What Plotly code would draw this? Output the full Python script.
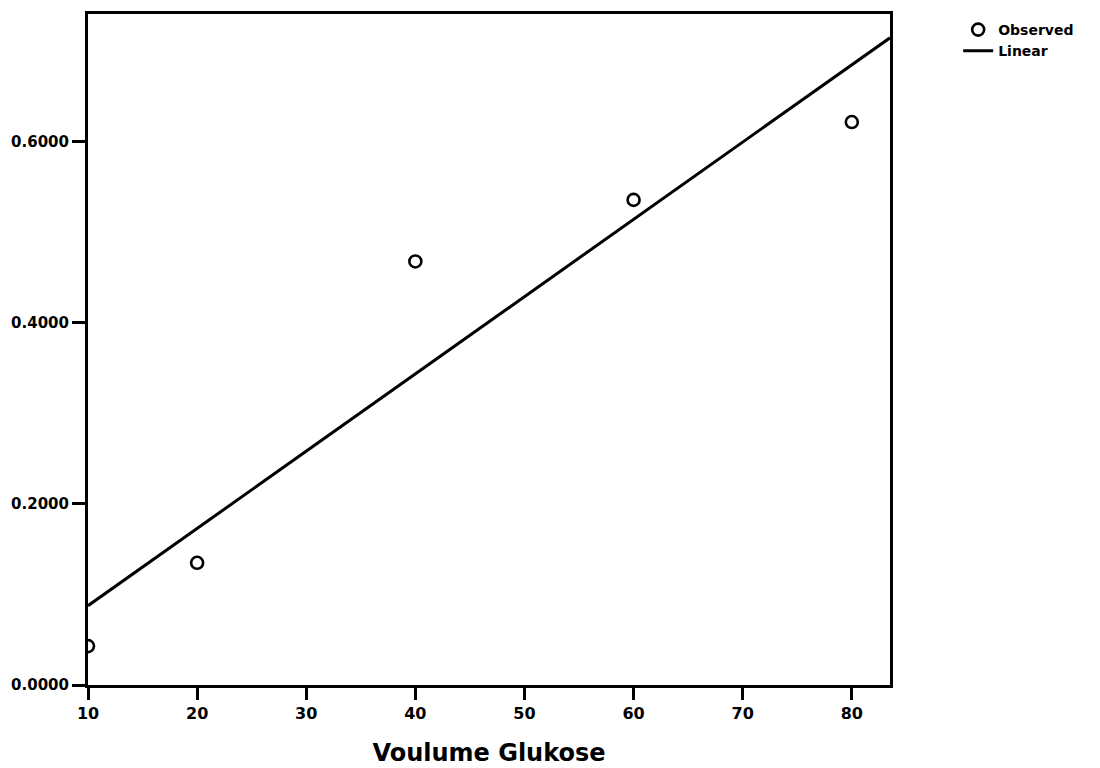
import numpy as np
import plotly.graph_objects as go

# Data
volume_glukose = [10, 20, 40, 60, 80]
observed = [0.043, 0.135, 0.468, 0.536, 0.622]
x_range = [10, 83.5]
y_range = [0, 0.7414]
x_ticks = [10, 20, 30, 40, 50, 60, 70, 80]
y_ticks = [0.0, 0.2, 0.4, 0.6]

# Linear fit (as SPSS curve estimation)
slope, intercept = np.polyfit(volume_glukose, observed, 1)
fit_x = np.array(x_range)
fit_y = intercept + slope * fit_x

FONT = "DejaVu Sans"

fig = go.Figure()
fig.add_trace(go.Scatter(
    x=volume_glukose, y=observed, mode="markers", name="Observed",
    marker=dict(symbol="circle-open", size=12, color="black", line=dict(width=2.6, color="black")),
    cliponaxis=True,
))
fig.add_trace(go.Scatter(
    x=fit_x, y=fit_y, mode="lines", name="Linear",
    line=dict(color="black", width=3),
))

# page has an 8px body margin, so the figure is 1092x760 and offsets are reduced by 8
fig.update_layout(
    width=1092, height=760,
    paper_bgcolor="white", plot_bgcolor="white",
    margin=dict(l=80, r=210, t=6, b=83, autoexpand=False),
    font=dict(family=FONT, color="black", size=16, weight="bold"),
    showlegend=True,
    legend=dict(
        x=1.085, y=1.0, xanchor="left", yanchor="top",
        font=dict(family=FONT, size=14, color="black", weight="bold"),
        bgcolor="rgba(0,0,0,0)", borderwidth=0,
        tracegroupgap=0, itemwidth=30,
    ),
)
fig.update_xaxes(
    range=x_range, tickvals=x_ticks, ticktext=[str(v) for v in x_ticks],
    showline=True, linecolor="black", linewidth=3, mirror=True,
    ticks="outside", ticklen=12, tickwidth=3, tickcolor="black",
    showgrid=False, zeroline=False,
    tickfont=dict(family=FONT, size=16, color="black", weight="bold"),
    title=dict(text="Voulume Glukose", standoff=22,
               font=dict(family=FONT, size=24, color="black", weight="bold")),
    automargin=False,
)
fig.update_yaxes(
    range=y_range, tickvals=y_ticks, tickformat=".4f",
    showline=True, linecolor="black", linewidth=3, mirror=True,
    ticks="outside", ticklen=13, tickwidth=3, tickcolor="black",
    showgrid=False, zeroline=False,
    tickfont=dict(family=FONT, size=15, color="black", weight="bold"),
    automargin=False,
)

fig.write_html("out.html")
